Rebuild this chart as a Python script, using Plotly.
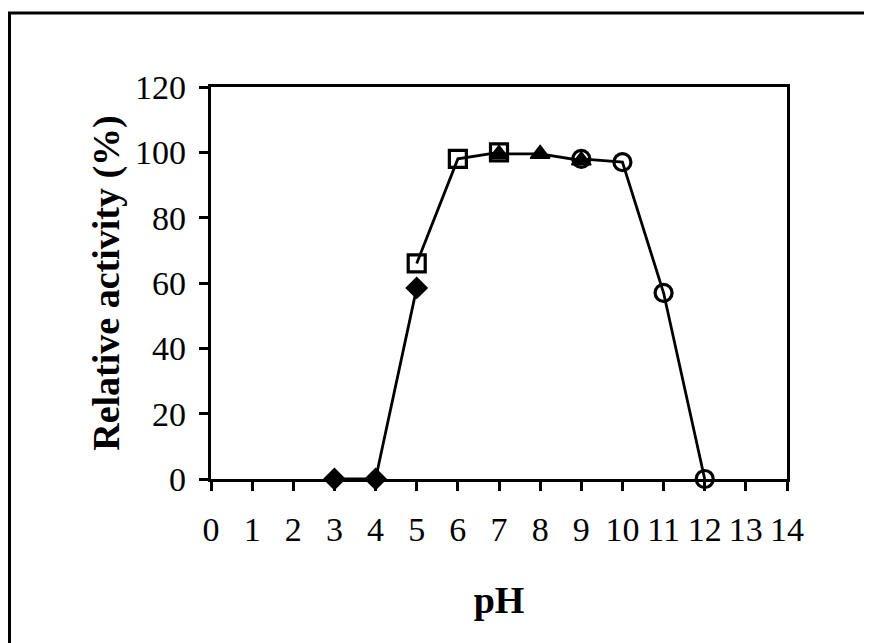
import plotly.graph_objects as go

# Data
ph_diamond = [3, 4, 5]
act_diamond = [0, 0, 58.5]

ph_square = [5, 6, 7]
act_square = [66, 98, 100]

ph_triangle = [7, 8, 9]
act_triangle = [99.5, 99.5, 97.5]

ph_circle = [9, 10, 11, 12]
act_circle = [98, 97, 57, 0]

x_ticks = list(range(0, 15))
y_ticks = list(range(0, 121, 20))

FONT = "Liberation Serif, Times New Roman, serif"

fig = go.Figure()

fig.add_trace(go.Scatter(
    x=ph_diamond, y=act_diamond, mode="lines+markers",
    line=dict(color="black", width=2.8),
    marker=dict(symbol="diamond", size=16, color="black", line=dict(color="black", width=1.5)),
    cliponaxis=False, showlegend=False))

fig.add_trace(go.Scatter(
    x=ph_square, y=act_square, mode="lines+markers",
    line=dict(color="black", width=2.8),
    marker=dict(symbol="square-open", size=17, color="black", line=dict(color="black", width=3.2)),
    cliponaxis=False, showlegend=False))

fig.add_trace(go.Scatter(
    x=ph_triangle, y=act_triangle, mode="lines+markers",
    line=dict(color="black", width=2.8),
    marker=dict(symbol="triangle-up", size=17, color="black", line=dict(color="black", width=1.5)),
    cliponaxis=False, showlegend=False))

fig.add_trace(go.Scatter(
    x=ph_circle, y=act_circle, mode="lines+markers",
    line=dict(color="black", width=2.8),
    marker=dict(symbol="circle-open", size=17, color="black", line=dict(color="black", width=3.2)),
    cliponaxis=False, showlegend=False))

# page has an 8px body margin; figure sized to fit the 872x643 window
W, H = 864, 635
L, T = 203, 78.5
pw, ph = 576, 392.5
R = W - L - pw
B = H - T - ph

def px_to_paper_x(px):
    return (px - L) / pw

def px_to_paper_y(py):
    return (T + ph - py) / ph

fig.add_shape(type="rect", xref="paper", yref="paper",
              x0=px_to_paper_x(1.5), x1=px_to_paper_x(900),
              y0=px_to_paper_y(700), y1=px_to_paper_y(4.5),
              line=dict(color="black", width=3), fillcolor="rgba(0,0,0,0)", layer="below")

fig.update_layout(
    width=W, height=H,
    margin=dict(l=L, r=R, t=T, b=B, pad=0),
    paper_bgcolor="white", plot_bgcolor="white",
    font=dict(family=FONT, color="black", size=34),
    xaxis=dict(
        range=[0, 14], tickmode="array", tickvals=x_ticks,
        ticktext=[str(v) for v in x_ticks],
        showgrid=False, zeroline=False,
        showline=True, linecolor="black", linewidth=3.2, mirror=True,
        ticks="outside", ticklen=9, tickwidth=2.8, tickcolor="black",
        tickfont=dict(family=FONT, size=34, color="black"),
        ticklabelstandoff=9,
        title=dict(text="<b>pH</b>", font=dict(family=FONT, size=38, color="black"), standoff=40),
    ),
    yaxis=dict(
        range=[0, 120], tickmode="array", tickvals=y_ticks,
        ticktext=[str(v) for v in y_ticks],
        showgrid=False, zeroline=False,
        showline=True, linecolor="black", linewidth=3.2, mirror=True,
        ticks="outside", ticklen=9, tickwidth=2.8, tickcolor="black",
        tickfont=dict(family=FONT, size=34, color="black"),
        ticklabelstandoff=6,
        title=dict(text="<b>Relative activity (%)</b>", font=dict(family=FONT, size=38, color="black"), standoff=4),
    ),
)

fig.write_html("out.html")
